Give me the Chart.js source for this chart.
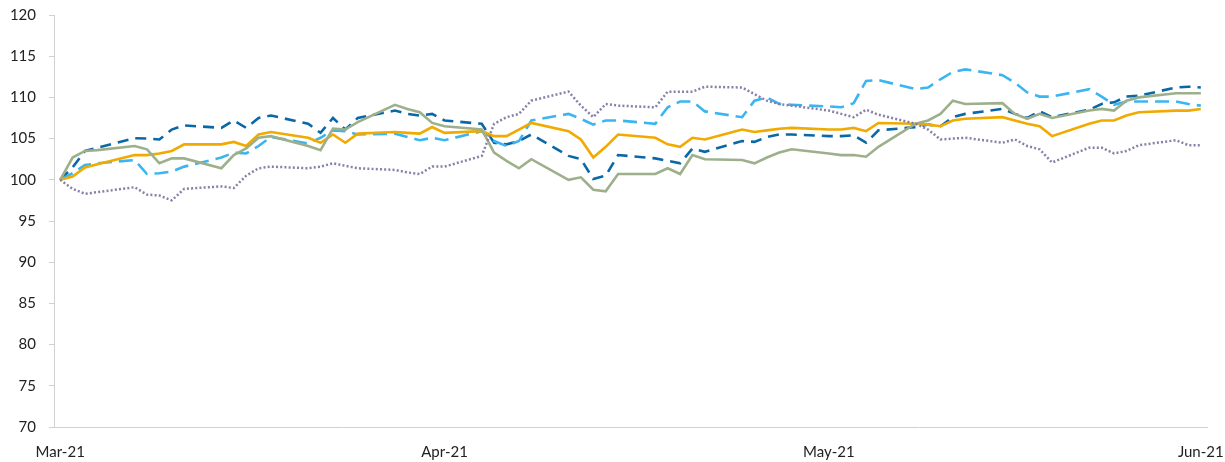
<!DOCTYPE html>
<html>
<head>
<meta charset="utf-8">
<script src="https://cdn.jsdelivr.net/npm/chart.js@4"></script>
<style>
  html, body { margin: 0; padding: 0; background: #ffffff; }
  #wrap { width: 1225px; height: 462px; position: relative; }
</style>
</head>
<body>
<div id="wrap"><canvas id="c" width="1225" height="462"></canvas></div>
<script>
// Trading days, counted in calendar days from the first observation
const days = [0,1,2,3,6,7,8,9,10,13,14,15,16,17,20,21,22,23,24,27,28,29,30,31,34,35,36,37,38,41,42,43,44,45,48,49,50,51,52,55,56,57,58,59,62,63,64,65,66,69,70,71,72,73,76,77,78,79,80,83,84,85,86,87,90,91,92];

const darkBlue = [100,101.5,103.5,103.9,105.05,105.0,104.9,106.1,106.6,106.3,107.2,106.3,107.5,107.8,106.8,105.7,107.5,106.1,107.5,108.4,108.0,107.8,108.0,107.2,106.8,104.5,104.3,104.7,105.5,102.9,102.5,100.1,100.5,103.0,102.6,102.3,102.0,103.8,103.4,104.7,104.6,105.2,105.5,105.5,105.3,105.3,105.4,104.5,106.0,106.4,106.7,106.5,107.6,108.0,108.6,108.0,107.5,108.3,107.6,108.5,109.2,109.4,110.1,110.2,111.2,111.3,111.2];

const lightBlue = [100,100.8,101.8,102.0,102.4,100.7,100.8,101.0,101.6,102.7,103.3,103.2,104.1,105.2,104.4,105.1,106.0,105.9,105.5,105.6,105.2,104.8,105.1,104.8,105.9,104.7,104.1,104.7,107.2,108.0,107.4,106.7,107.2,107.2,106.8,108.8,109.5,109.5,108.3,107.6,109.6,110.0,109.2,109.1,108.9,108.8,109.3,112.0,112.1,111.0,111.2,112.2,113.1,113.4,112.7,111.8,110.6,110.1,110.1,111.0,110.1,109.1,109.5,109.5,109.5,109.2,109.0];

const gold = [100,100.4,101.5,101.9,103.0,103.0,103.2,103.5,104.3,104.3,104.6,104.1,105.5,105.8,105.1,104.5,105.5,104.5,105.6,105.8,105.7,105.6,106.4,105.7,105.9,105.3,105.3,106.1,106.9,105.9,104.9,102.7,104.0,105.5,105.1,104.3,104.0,105.1,104.9,106.1,105.8,106.0,106.2,106.3,106.1,106.1,106.3,105.9,106.9,106.8,106.7,106.5,107.2,107.4,107.6,107.2,106.8,106.5,105.3,106.8,107.2,107.2,107.8,108.2,108.4,108.4,108.6];

const green = [100,102.7,103.5,103.6,104.1,103.7,102.0,102.6,102.6,101.4,103.0,103.8,105.1,105.3,104.1,103.6,106.2,106.1,107.0,109.1,108.6,108.2,106.9,106.5,106.1,103.3,102.3,101.4,102.5,100.0,100.3,98.8,98.6,100.7,100.7,101.4,100.7,103.0,102.5,102.4,102.0,102.7,103.3,103.7,103.2,103.0,103.0,102.8,104.0,106.8,107.2,108.0,109.6,109.2,109.3,108.0,107.4,108.0,107.5,108.4,108.6,108.4,109.6,110.0,110.5,110.5,110.5];

const purple = [100,98.9,98.3,98.5,99.1,98.2,98.1,97.5,98.9,99.2,99.0,100.5,101.4,101.6,101.4,101.6,102.0,101.7,101.4,101.2,100.9,100.7,101.6,101.6,102.9,106.8,107.6,108.0,109.6,110.7,109.0,107.6,109.2,109.0,108.8,110.7,110.7,110.7,111.3,111.2,110.4,109.6,109.2,109.0,108.4,108.0,107.6,108.5,107.9,106.8,106.1,104.9,105.0,105.1,104.5,104.9,104.1,103.7,102.1,103.9,103.9,103.2,103.5,104.2,104.8,104.2,104.2];

// Axis labels
const tickDays = [0, 31, 62, 92];
const tickLabels = ['Mar-21', 'Apr-21', 'May-21', 'Jun-21'];
const yMin = 70, yMax = 120, yStep = 5;

function pts(arr) { return days.map((d, i) => ({ x: d, y: arr[i] })); }

const FONT = 'Lato, "Open Sans", "DejaVu Sans", sans-serif';

new Chart(document.getElementById('c'), {
  type: 'line',
  data: {
    datasets: [
      { data: pts(purple), borderColor: '#8680A8', borderWidth: 2.5, borderDash: [2, 2.2] },
      { data: pts(green), borderColor: '#9DB08B', borderWidth: 2.6 },
      { data: pts(gold), borderColor: '#F0AA00', borderWidth: 2.6 },
      { data: pts(lightBlue), borderColor: '#3BB5F1', borderWidth: 2.6, borderDash: [14, 7] },
      { data: pts(darkBlue), borderColor: '#0B68A6', borderWidth: 2.6, borderDash: [11, 7] }
    ]
  },
  options: {
    responsive: false,
    animation: false,
    devicePixelRatio: 1,
    elements: { point: { radius: 0 }, line: { tension: 0, fill: false, borderCapStyle: 'butt' } },
    layout: { padding: { left: 0, right: 18, top: 15, bottom: 0 } },
    plugins: { legend: { display: false }, tooltip: { enabled: false }, title: { display: false } },
    scales: {
      x: {
        type: 'linear',
        min: tickDays[0] - 0.5,
        max: tickDays[tickDays.length - 1] + 0.5,
        afterBuildTicks: (s) => { s.ticks = tickDays.map(v => ({ value: v })); },
        afterFit: (s) => { s.height = 35; s.paddingLeft = 0; s.paddingRight = 0; },
        grid: { display: false },
        border: { display: true, color: '#D0D0D0', width: 1 },
        ticks: {
          autoSkip: false, maxRotation: 0, padding: 8,
          color: '#222222',
          font: { family: FONT, size: 15 },
          callback: (v) => { const i = tickDays.indexOf(v); return i >= 0 ? tickLabels[i] : ''; }
        }
      },
      y: {
        min: yMin, max: yMax,
        afterFit: (s) => { s.width = 54; s.paddingTop = 0; s.paddingBottom = 0; },
        grid: { drawOnChartArea: false, drawTicks: true, tickLength: 5, color: '#D0D0D0' },
        border: { display: true, color: '#D0D0D0', width: 1 },
        ticks: {
          stepSize: yStep, padding: 13,
          color: '#222222',
          font: { family: FONT, size: 15 }
        }
      }
    }
  }
});
</script>
</body>
</html>
